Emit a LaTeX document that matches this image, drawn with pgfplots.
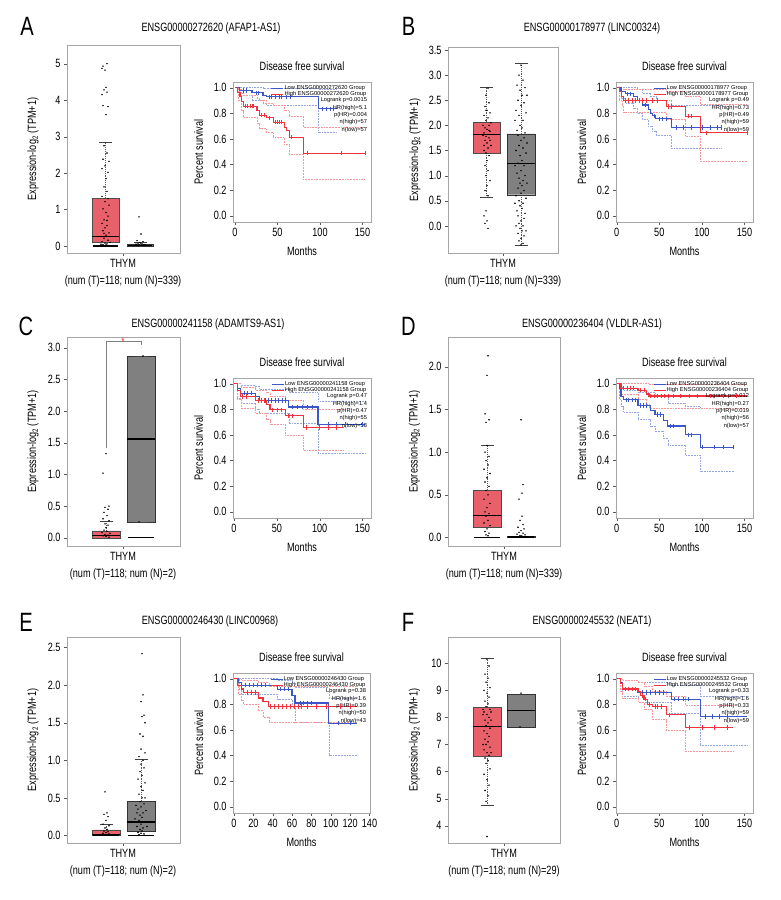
\documentclass[border=0pt]{standalone}
\usepackage{fontspec}
\setmainfont{Liberation Sans}[FakeStretch=0.76]
\newfontfamily\legfont{Liberation Sans}
\usepackage{pgfplots}
\pgfplotsset{compat=1.18}

\definecolor{boxred}{RGB}{232,97,106}
\definecolor{boxgrey}{RGB}{128,128,128}
\definecolor{kmblue}{RGB}{60,88,200}
\definecolor{kmred}{RGB}{240,50,60}
\definecolor{ciblue}{RGB}{150,165,228}
\definecolor{cired}{RGB}{248,150,155}

\tikzset{
  stats/.style={anchor=north east, align=right, inner sep=0pt, font=\legfont\fontsize{5.7}{7.4}\selectfont},
  panel/.style={anchor=base, font=\fontsize{26.5}{27}\selectfont},
  gtitle/.style={anchor=base, font=\fontsize{12}{12}\selectfont},
}

\pgfplotsset{
  every axis/.append style={
    scale only axis,
    /pgf/number format/assume math mode=true,
    tick label style={font=\fontsize{12}{12}\selectfont},
    label style={font=\fontsize{12}{14}\selectfont},
    axis line style={gray!70},
    tick align=outside, xtick pos=bottom, ytick pos=left,
    major tick length=3pt, tick style={gray!70!black},
  },
  boxax/.style={
    xmin=0, xtick={56},
    ylabel={Expression-log\textsubscript{2} (TPM+1)},
    ylabel style={at={(axis description cs:-0.30,0.5)}, rotate=0, anchor=center},
    xticklabel style={align=center, font=\fontsize{12}{17}\selectfont},
  },
  dec/.style={yticklabel style={/pgf/number format/.cd, fixed, fixed zerofill, precision=1}},
  bred/.style={fill=boxred, draw=gray!60!black, line width=0.4pt, forget plot},
  bgrey/.style={fill=boxgrey, draw=gray!40!black, line width=0.4pt, forget plot},
  med/.style={black, line width=1.1pt, forget plot},
  wh/.style={gray!70!black, dash pattern=on 1.2pt off 1pt, line width=0.5pt, forget plot},
  cap/.style={gray!50!black, line width=0.6pt, forget plot},
  pts/.style={only marks, mark=*, mark size=0.5pt, black, forget plot},
  zl/.style={black, line width=1.2pt, forget plot},
  kmax/.style={
    xmin=-1.5, xmax=160, ymin=-0.05, ymax=1.045,
    xtick={0,50,100,150}, ytick={0,0.2,0.4,0.6,0.8,1},
    dec,
    title={Disease free survival}, xlabel={Months}, ylabel={Percent survival},
    title style={at={(axis description cs:0.5,1.07)}, anchor=center, font=\fontsize{12}{12}\selectfont},
    ylabel style={at={(axis description cs:-0.25,0.5)}, anchor=center},
    xlabel style={at={(axis description cs:0.5,-0.21)}, anchor=center},
    legend style={at={(0.972,0.98)}, anchor=north east, draw=none, fill=none,
      font=\legfont\fontsize{5.7}{6}\selectfont, inner sep=0pt, row sep=-0.6pt,
      nodes={inner sep=0.6pt}},
    legend cell align=left,
    legend image code/.code={\draw[#1, line width=1pt] (0pt,0pt) -- (12pt,0pt);},
  },
  lowline/.style={const plot, line width=1.15pt, color=kmblue},
  highline/.style={const plot, line width=1.15pt, color=kmred},
  lowci/.style={const plot, densely dotted, line width=0.55pt, color=ciblue, forget plot},
  highci/.style={const plot, densely dotted, line width=0.55pt, color=cired, forget plot},
  lowcens/.style={only marks, mark=|, mark size=2.2pt, line width=0.6pt, color=kmblue, forget plot},
  highcens/.style={only marks, mark=|, mark size=2.2pt, line width=0.6pt, color=kmred, forget plot},
}

\begin{document}
\begin{tikzpicture}
\path[use as bounding box] (0pt,0pt) rectangle (780pt,-900pt);

% ---------------- A ----------------
\begin{axis}[boxax, at={(67pt,-253pt)}, anchor=south west, width=113pt, height=208pt,
  xmax=113, ymin=-0.19, ymax=5.51, ytick={0,1,2,3,4,5},
  xticklabels={{THYM\\(num (T)=118; num (N)=339)}}]
\addplot[wh] coordinates {(38.5,1.30)(38.5,2.85)};
\addplot[cap] coordinates {(32,2.85)(45,2.85)};
\addplot[bred] coordinates {(25,0.11)(52,0.11)(52,1.30)(25,1.30)(25,0.11)};
\addplot[med] coordinates {(25,0.25)(52,0.25)};
\addplot[bgrey] coordinates {(60,0)(86,0)(86,0.04)(60,0.04)(60,0)};
\addplot[wh] coordinates {(73,0.04)(73,0.09)};
\addplot[cap] coordinates {(66.5,0.09)(79.5,0.09)};
\addplot[zl] coordinates {(26,0) (51,0)};
\addplot[zl] coordinates {(61,0.01) (85,0.01)};
\addplot[pts] coordinates {(40,5.0)(36,4.93)(35,4.87)(38,4.82)(39,4.35)(37,4.28)(40,4.22)(35,4.15)
  (36,3.85)(41,3.82)(39,3.6)(37,2.75)(40,2.55)(36,2.38)(42,2.32)(38,2.2)(35,2.12)(41,2.02)
  (39,1.85)(37,1.62)(40,1.5)(35,1.36)(38,1.22)(42,1.12)(36,1.02)(39,0.92)(41,0.82)(37,0.72)
  (35,0.62)(40,0.56)(38,0.5)(36,0.42)(42,0.36)(39,0.3)(37,0.22)(41,0.16)(35,0.12)(38,0.08)
  (40,0.06)(36,0.04)(39,0.03)(34,0.05)(43,0.1)(37,0.35)(40,0.7)(41,1.3)};
\addplot[pts] coordinates {(72,0.8)(74,0.33)(70,0.15)(76,0.12)(73,0.1)(71,0.08)(75,0.06)
  (69,0.05)(77,0.04)(72,0.03)(74,0.02)(78,0.03)(68,0.02)};
\end{axis}

\begin{axis}[kmax, at={(233pt,-222pt)}, anchor=south west, width=138pt, height=140pt, xmin=-2.3]
\addplot[lowci] coordinates {(0,1)(5,1)(33,0.995)(98,0.99)(119.5,0.99)};
\addplot[lowci] coordinates {(0,1)(5,0.94)(20,0.9)(33,0.88)(37,0.86)(98,0.65)(119.5,0.65)};
\addplot[highci] coordinates {(0,1)(4,0.99)(8,0.96)(10,0.94)(26,0.92)(29,0.9)(37,0.88)
  (45,0.86)(58,0.82)(64,0.78)(80.5,0.69)(153,0.69)};
\addplot[highci] coordinates {(0,1)(4,0.9)(8,0.82)(10,0.77)(26,0.72)(29,0.68)(37,0.65)
  (45,0.61)(58,0.56)(64,0.48)(80.5,0.285)(153,0.285)};
\addplot[lowline] coordinates {(0,1)(5,0.98)(20,0.96)(33,0.94)(37,0.93)(98,0.835)(119.5,0.835)};
\addlegendentry{Low ENSG00000272620 Group}
\addplot[highline] coordinates {(0,1)(3,0.965)(6,0.93)(8,0.89)(10,0.855)(26,0.82)(29,0.785)
  (37,0.765)(45,0.73)(58,0.69)(61,0.666)(64,0.614)(80.5,0.488)(153,0.488)};
\addlegendentry{High ENSG00000272620 Group}
\addplot[lowcens] coordinates {(10,0.98)(13,0.98)(25,0.96)(28,0.96)(40,0.93)(43,0.93)(47,0.93)
  (52,0.93)(55,0.93)(60,0.93)(65,0.93)(103,0.835)(108,0.835)(112,0.835)(116,0.835)};
\addplot[highcens] coordinates {(12,0.855)(15,0.855)(18,0.855)(20,0.855)(22,0.855)(31,0.785)
  (34,0.785)(40,0.765)(47,0.73)(50,0.73)(52,0.73)(55,0.73)(66,0.614)(85,0.488)(125,0.488)(153,0.488)};
\node[stats] at (rel axis cs:0.972,0.89) {Logrank p=0.0015\\HR(high)=5.1\\p(HR)=0.004\\n(high)=57\\n(low)=57};
\end{axis}

% ---------------- B ----------------
\begin{axis}[boxax, dec, at={(448pt,-253pt)}, anchor=south west, width=110pt, height=206pt,
  xmax=110, xtick={55}, ymin=-0.54, ymax=3.56, ytick={0,0.5,1,1.5,2,2.5,3,3.5},
  xticklabels={{THYM\\(num (T)=118; num (N)=339)}}]
\addplot[wh] coordinates {(38.5,2.06)(38.5,2.76)};
\addplot[wh] coordinates {(38.5,1.45)(38.5,0.56)};
\addplot[cap] coordinates {(32,2.76)(45,2.76)};
\addplot[cap] coordinates {(32,0.56)(45,0.56)};
\addplot[bred] coordinates {(25,1.45)(52,1.45)(52,2.06)(25,2.06)(25,1.45)};
\addplot[med] coordinates {(25,1.81)(52,1.81)};
\addplot[wh] coordinates {(73,1.83)(73,3.24)};
\addplot[wh] coordinates {(73,0.62)(73,-0.39)};
\addplot[cap] coordinates {(66.5,3.24)(79.5,3.24)};
\addplot[cap] coordinates {(66.5,-0.39)(79.5,-0.39)};
\addplot[bgrey] coordinates {(59,0.62)(87,0.62)(87,1.83)(59,1.83)(59,0.62)};
\addplot[med] coordinates {(59,1.25)(87,1.25)};
\addplot[pts] coordinates {(40,2.74)(38,2.6)(41,2.45)(37,2.38)(39,2.3)(42,2.25)(36,2.2)(40,2.15)
  (38,2.1)(43,2.05)(41,2.0)(37,1.95)(39,1.92)(42,1.88)(36,1.85)(40,1.82)(38,1.78)(41,1.75)
  (37,1.7)(39,1.65)(43,1.6)(40,1.55)(36,1.5)(38,1.45)(41,1.4)(39,1.3)(37,1.2)(40,1.1)(38,1.0)
  (42,0.9)(39,0.8)(37,0.7)(40,0.6)(38,0.3)(36,0.2)(39,0.1)(37,0.05)(40,-0.05)
  (35,2.0)(42,1.7)(36,1.6)(41,1.9)(38,2.3)(35,1.8)};
\addplot[pts] coordinates {(73,3.2)(71,3.0)(75,2.9)(69,2.8)(77,2.75)(72,2.7)(74,2.6)(70,2.5)
  (76,2.45)(73,2.4)(68,2.3)(78,2.25)(71,2.2)(75,2.1)(72,2.0)(74,1.95)(69,1.9)(77,1.85)(70,1.8)
  (76,1.75)(73,1.7)(71,1.6)(75,1.55)(68,1.5)(78,1.45)(72,1.4)(74,1.3)(70,1.25)(76,1.2)(73,1.1)
  (69,1.05)(77,1.0)(71,0.95)(75,0.9)(72,0.85)(74,0.8)(70,0.75)(76,0.7)(73,0.65)(68,0.6)(78,0.55)
  (71,0.5)(75,0.45)(72,0.4)(74,0.35)(69,0.3)(77,0.25)(70,0.2)(76,0.15)(73,0.1)(71,0.05)(75,0.0)
  (72,-0.05)(74,-0.1)(70,-0.15)(76,-0.2)(73,-0.25)(71,-0.3)(75,-0.35)(73,-0.38)
  (67,2.1)(79,1.65)(67,1.2)(79,0.85)(67,0.45)(79,2.6)(68,0.0)(78,-0.1)};
\end{axis}

\begin{axis}[kmax, at={(616pt,-222pt)}, anchor=south west, width=137pt, height=140pt, xmin=-0.8]
\addplot[lowci] coordinates {(0,1)(10,1)(24,0.99)(30,0.96)(40,0.93)(46,0.9)(64,0.86)(123,0.86)};
\addplot[lowci] coordinates {(0,1)(5,0.92)(10,0.88)(20,0.84)(24,0.80)(30,0.75)(37,0.70)
  (42,0.66)(46,0.63)(64,0.527)(123,0.527)};
\addplot[highci] coordinates {(0,1)(8,0.99)(58,0.97)(81,0.93)(98,0.87)(153,0.87)};
\addplot[highci] coordinates {(0,1)(3,0.9)(6,0.86)(8,0.81)(58,0.75)(81,0.62)(98,0.426)(153,0.426)};
\addplot[lowline] coordinates {(0,1)(5,0.97)(10,0.953)(20,0.93)(24,0.90)(30,0.865)(37,0.83)
  (40,0.80)(42,0.78)(46,0.757)(64,0.689)(123,0.689)};
\addlegendentry{Low ENSG00000178977 Group}
\addplot[highline] coordinates {(0,1)(3,0.97)(6,0.93)(8,0.90)(58,0.854)(81,0.778)(98,0.647)(153,0.647)};
\addlegendentry{High ENSG00000178977 Group}
\addplot[lowcens] coordinates {(12,0.953)(16,0.953)(26,0.9)(33,0.865)(44,0.78)(50,0.757)(54,0.757)
  (58,0.757)(70,0.689)(78,0.689)(88,0.689)(100,0.689)(110,0.689)(118,0.689)(123,0.689)};
\addplot[highcens] coordinates {(10,0.9)(14,0.9)(18,0.9)(22,0.9)(27,0.9)(30,0.9)(35,0.9)(42,0.9)
  (48,0.9)(60,0.854)(64,0.854)(84,0.778)(88,0.778)(105,0.647)(153,0.647)};
\node[stats] at (rel axis cs:0.972,0.89) {Logrank p=0.49\\HR(high)=0.73\\p(HR)=0.49\\n(high)=59\\n(low)=59};
\end{axis}

% ---------------- C ----------------
\begin{axis}[boxax, dec, at={(67pt,-546pt)}, anchor=south west, width=113pt, height=209pt,
  xmax=113, ymin=-0.13, ymax=3.17, ytick={0,0.5,1,1.5,2,2.5,3},
  xticklabels={{THYM\\(num (T)=118; num (N)=2)}}]
\addplot[wh] coordinates {(39,0.11)(39,0.26)};
\addplot[cap] coordinates {(32.5,0.26)(45.5,0.26)};
\addplot[bred] coordinates {(25,0)(53,0)(53,0.11)(25,0.11)(25,0)};
\addplot[med] coordinates {(25,0.04)(53,0.04)};
\addplot[bgrey] coordinates {(60,0.25)(88,0.25)(88,2.87)(60,2.87)(60,0.25)};
\addplot[med] coordinates {(60,1.56)(88,1.56)};
\addplot[cap] coordinates {(67.5,2.87)(80.5,2.87)};
\addplot[cap] coordinates {(67.5,0.25)(80.5,0.25)};
\addplot[zl] coordinates {(61,0) (87,0)};
\addplot[gray, line width=0.6pt, forget plot] coordinates {(39,1.41)(39,3.11)(74,3.11)(74,3.05)};
\node[kmred, font=\fontsize{11}{11}\selectfont, inner sep=0pt] at (axis cs:56,3.09) {*};
\addplot[pts] coordinates {(39,1.33)(36,1.02)(42,0.5)(38,0.48)(41,0.45)(37,0.4)(40,0.35)(36,0.3)
  (42,0.27)(38,0.22)(41,0.2)(39,0.16)(37,0.12)(40,0.1)(35,0.08)(43,0.07)(38,0.05)(41,0.04)
  (36,0.03)(39,0.02)(42,0.01)};
\addplot[pts] coordinates {(76,2.87)(72,0.25)};
\end{axis}

\begin{axis}[kmax, at={(233pt,-518pt)}, anchor=south west, width=138pt, height=140pt, xmin=-1.2]
\addplot[lowci] coordinates {(0,1)(8,0.99)(25,0.98)(30,0.96)(64,0.93)(98,0.86)(153,0.86)};
\addplot[lowci] coordinates {(0,1)(4,0.89)(8,0.85)(25,0.80)(30,0.77)(64,0.69)(98,0.46)(153,0.46)};
\addplot[highci] coordinates {(0,1)(4,1)(8,0.97)(25,0.95)(38,0.93)(42,0.9)(60,0.87)(81,0.8)(128,0.8)};
\addplot[highci] coordinates {(0,1)(4,0.88)(8,0.81)(25,0.77)(38,0.72)(42,0.68)(60,0.6)(81,0.48)(128,0.48)};
\addplot[lowline] coordinates {(0,1)(4,0.96)(8,0.927)(25,0.90)(30,0.87)(64,0.818)(98,0.68)(153,0.68)};
\addlegendentry{Low ENSG00000241158 Group}
\addplot[highline] coordinates {(0,1)(4,0.95)(8,0.90)(25,0.87)(38,0.84)(42,0.797)(60,0.75)(81,0.657)(128,0.657)};
\addlegendentry{High ENSG00000241158 Group}
\addplot[lowcens] coordinates {(12,0.927)(16,0.927)(20,0.927)(32,0.87)(36,0.87)(40,0.87)(44,0.87)
  (48,0.87)(52,0.87)(56,0.87)(60,0.87)(68,0.818)(74,0.818)(80,0.818)(86,0.818)(92,0.818)(110,0.68)
  (120,0.68)(130,0.68)(150,0.68)};
\addplot[highcens] coordinates {(10,0.90)(14,0.90)(28,0.87)(32,0.87)(35,0.87)(45,0.797)(50,0.797)
  (55,0.797)(63,0.75)(68,0.75)(85,0.657)(100,0.657)(110,0.657)(120,0.657)};
\node[stats] at (rel axis cs:0.972,0.89) {Logrank p=0.47\\HR(high)=1.4\\p(HR)=0.47\\n(high)=55\\n(low)=58};
\end{axis}

% ---------------- D ----------------
\begin{axis}[boxax, dec, at={(448pt,-546pt)}, anchor=south west, width=112pt, height=209pt,
  xmax=112, ymin=-0.10, ymax=2.35, ytick={0,0.5,1,1.5,2},
  xticklabels={{THYM\\(num (T)=118; num (N)=339)}}]
\addplot[wh] coordinates {(39,0.55)(39,1.08)};
\addplot[cap] coordinates {(32.5,1.08)(45.5,1.08)};
\addplot[bred] coordinates {(25,0.12)(53,0.12)(53,0.55)(25,0.55)(25,0.12)};
\addplot[med] coordinates {(25,0.26)(53,0.26)};
\addplot[bgrey] coordinates {(59,0)(87,0)(87,0.01)(59,0.01)(59,0)};
\addplot[wh] coordinates {(73,0.01)(73,0.03)};
\addplot[zl] coordinates {(26,0) (52,0)};
\addplot[zl] coordinates {(60,0.005) (86,0.005)};
\addplot[pts] coordinates {(40,2.13)(39,1.9)(37,1.45)(41,1.38)(38,1.35)(39,1.08)(37,1.0)(41,0.95)
  (38,0.9)(40,0.85)(36,0.8)(42,0.75)(39,0.7)(37,0.65)(41,0.6)(38,0.55)(40,0.5)(36,0.45)(42,0.4)
  (39,0.35)(37,0.3)(41,0.28)(38,0.25)(40,0.2)(36,0.17)(42,0.14)(39,0.1)(37,0.07)(41,0.05)
  (38,0.03)(40,0.02)};
\addplot[pts] coordinates {(73,1.38)(75,0.62)(74,0.52)(71,0.45)(74,0.25)(72,0.2)(75,0.15)(70,0.12)
  (76,0.1)(73,0.08)(71,0.06)(75,0.05)(69,0.04)(77,0.03)(72,0.02)(74,0.015)};
\end{axis}

\begin{axis}[kmax, at={(616pt,-518pt)}, anchor=south west, width=137pt, height=140pt, xmin=-0.8]
\addplot[lowci] coordinates {(0,1)(5,0.97)(8,0.95)(25,0.93)(45,0.9)(60,0.85)(81,0.82)(98,0.81)(137,0.81)};
\addplot[lowci] coordinates {(0,1)(3,0.88)(5,0.82)(8,0.78)(25,0.72)(40,0.67)(45,0.63)(55,0.57)
  (60,0.52)(81,0.44)(98,0.312)(137,0.312)};
\addplot[highci] coordinates {(0,1)(25,1)(38,0.995)(153,0.995)};
\addplot[highci] coordinates {(0,1)(5,0.92)(25,0.88)(35,0.84)(38,0.81)(153,0.81)};
\addplot[lowline] coordinates {(0,1)(3,0.96)(5,0.90)(8,0.875)(25,0.83)(40,0.79)(45,0.76)(55,0.714)
  (60,0.67)(81,0.60)(98,0.504)(137,0.504)};
\addlegendentry{Low ENSG00000236404 Group}
\addplot[highline] coordinates {(0,1)(5,0.966)(25,0.95)(35,0.92)(38,0.904)(153,0.904)};
\addlegendentry{High ENSG00000236404 Group}
\addplot[lowcens] coordinates {(11,0.875)(14,0.875)(18,0.875)(22,0.875)(28,0.83)(31,0.83)(35,0.83)
  (48,0.76)(51,0.76)(63,0.67)(67,0.67)(84,0.60)(88,0.60)(100,0.504)(115,0.504)(125,0.504)(137,0.504)};
\addplot[highcens] coordinates {(8,0.966)(12,0.966)(16,0.966)(20,0.966)(28,0.95)(32,0.95)(40,0.904)
  (44,0.904)(48,0.904)(52,0.904)(56,0.904)(60,0.904)(66,0.904)(75,0.904)(85,0.904)(95,0.904)
  (110,0.904)(125,0.904)(140,0.904)};
\node[stats] at (rel axis cs:0.972,0.89) {Logrank p=0.012\\HR(high)=0.27\\p(HR)=0.019\\n(high)=56\\n(low)=57};
\end{axis}

% ---------------- E ----------------
\begin{axis}[boxax, dec, at={(67pt,-843pt)}, anchor=south west, width=113pt, height=206pt,
  xmax=113, ymin=-0.10, ymax=2.64, ytick={0,0.5,1,1.5,2,2.5},
  xticklabels={{THYM\\(num (T)=118; num (N)=2)}}]
\addplot[wh] coordinates {(39,0.076)(39,0.15)};
\addplot[cap] coordinates {(32.5,0.15)(45.5,0.15)};
\addplot[bred] coordinates {(25,0)(53,0)(53,0.076)(25,0.076)(25,0)};
\addplot[med] coordinates {(25,0.016)(53,0.016)};
\addplot[wh] coordinates {(74,0.45)(74,1.02)};
\addplot[cap] coordinates {(67.5,1.02)(80.5,1.02)};
\addplot[bgrey] coordinates {(60,0.06)(88,0.06)(88,0.45)(60,0.45)(60,0.06)};
\addplot[med] coordinates {(60,0.18)(88,0.18)};
\addplot[zl] coordinates {(26,0) (52,0)};
\addplot[zl] coordinates {(61,0) (87,0)};
\addplot[pts] coordinates {(38,0.58)(40,0.3)(37,0.28)(41,0.25)(39,0.2)(36,0.15)(42,0.13)(38,0.1)
  (40,0.08)(37,0.06)(41,0.05)(39,0.04)(36,0.03)(42,0.02)(38,0.01)};
\addplot[pts] coordinates {(75,2.42)(76,1.87)(74,1.78)(77,1.6)(75,1.58)(78,1.5)(73,1.35)(76,1.32)
  (74,1.15)(78,1.1)(72,1.05)(76,1.0)(74,0.95)(77,0.9)(73,0.85)(75,0.8)(71,0.75)(78,0.7)(74,0.65)
  (76,0.6)(72,0.55)(75,0.5)(73,0.45)(77,0.42)(74,0.38)(71,0.35)(76,0.3)(73,0.27)(75,0.24)(72,0.2)
  (77,0.18)(74,0.15)(70,0.12)(76,0.1)(73,0.08)(75,0.06)(71,0.04)(74,0.03)(77,0.02)(72,0.01)
  (69,0.4)(79,0.33)(68,0.22)(80,0.12)(70,0.3)(78,0.5)};
\end{axis}

\begin{axis}[kmax, at={(233pt,-813pt)}, anchor=south west, width=137pt, height=140pt,
  xmin=-1, xmax=140.5, xtick={0,20,40,60,80,100,120,140}]
\addplot[lowci] coordinates {(0,1)(8,1)(45,0.99)(60,0.97)(63,0.93)(98,0.85)(127,0.85)};
\addplot[lowci] coordinates {(0,1)(5,0.92)(8,0.88)(45,0.84)(60,0.78)(63,0.66)(98,0.405)(127,0.405)};
\addplot[highci] coordinates {(0,1)(8,0.99)(25,0.97)(36,0.94)(127,0.92)};
\addplot[highci] coordinates {(0,1)(4,0.88)(8,0.83)(10,0.8)(25,0.75)(30,0.7)(36,0.658)(127,0.658)};
\addplot[lowline] coordinates {(0,1)(5,0.97)(8,0.95)(45,0.919)(60,0.87)(63,0.81)(98,0.653)(127,0.653)};
\addlegendentry{Low ENSG00000246430 Group}
\addplot[highline] coordinates {(0,1)(4,0.95)(8,0.92)(10,0.893)(25,0.85)(30,0.82)(36,0.783)(127,0.783)};
\addlegendentry{High ENSG00000246430 Group}
\addplot[lowcens] coordinates {(12,0.95)(16,0.95)(20,0.95)(24,0.95)(28,0.95)(32,0.95)(48,0.919)
  (52,0.919)(56,0.919)(68,0.81)(72,0.81)(76,0.81)(80,0.81)(108,0.653)(120,0.653)};
\addplot[highcens] coordinates {(14,0.893)(18,0.893)(22,0.893)(38,0.783)(42,0.783)(46,0.783)(50,0.783)
  (54,0.783)(58,0.783)(62,0.783)(66,0.783)(70,0.783)(76,0.783)(85,0.783)(95,0.783)(110,0.783)(120,0.783)};
\node[stats] at (rel axis cs:0.972,0.89) {Logrank p=0.38\\HR(high)=1.6\\p(HR)=0.39\\n(high)=50\\n(low)=43};
\end{axis}

% ---------------- F ----------------
\begin{axis}[boxax, at={(448pt,-843pt)}, anchor=south west, width=112pt, height=206pt,
  xmax=112, ymin=3.36, ymax=10.97, ytick={4,5,6,7,8,9,10},
  xticklabels={{THYM\\(num (T)=118; num (N)=29)}}]
\addplot[wh] coordinates {(39,8.36)(39,10.19)};
\addplot[wh] coordinates {(39,6.57)(39,4.74)};
\addplot[cap] coordinates {(32.5,10.19)(45.5,10.19)};
\addplot[cap] coordinates {(32.5,4.74)(45.5,4.74)};
\addplot[bred] coordinates {(25,6.57)(53,6.57)(53,8.36)(25,8.36)(25,6.57)};
\addplot[med] coordinates {(25,7.65)(53,7.65)};
\addplot[bgrey] coordinates {(59,7.65)(87,7.65)(87,8.86)(59,8.86)(59,7.65)};
\addplot[med] coordinates {(59,8.27)(87,8.27)};
\addplot[pts] coordinates {(39,10.15)(41,9.9)(37,9.6)(40,9.45)(38,9.3)(42,9.1)(36,9.0)(39,8.9)
  (41,8.75)(37,8.6)(40,8.5)(38,8.4)(42,8.3)(36,8.2)(39,8.1)(41,8.0)(37,7.9)(40,7.8)(38,7.7)
  (42,7.6)(36,7.5)(39,7.4)(41,7.3)(37,7.2)(40,7.1)(38,7.0)(42,6.9)(36,6.8)(39,6.7)(41,6.6)
  (37,6.5)(40,6.4)(38,6.3)(42,6.1)(36,5.9)(39,5.7)(41,5.5)(37,5.3)(40,5.1)(38,4.9)(39,3.6)
  (35,8.1)(43,7.9)(35,7.0)(43,6.7)(35,8.3)(43,8.2)};
\addplot[pts] coordinates {(73,8.9)(72,7.65)};
\end{axis}

\begin{axis}[kmax, at={(616pt,-813pt)}, anchor=south west, width=137pt, height=140pt, xmin=-0.8]
\addplot[lowci] coordinates {(0,1)(7,0.99)(25,0.97)(64,0.95)(98,0.86)(153,0.86)};
\addplot[lowci] coordinates {(0,1)(4,0.92)(7,0.86)(25,0.82)(64,0.73)(98,0.478)(153,0.478)};
\addplot[highci] coordinates {(0,1)(7,0.99)(25,0.97)(32,0.94)(42,0.9)(58,0.86)(81,0.79)(137,0.79)};
\addplot[highci] coordinates {(0,1)(4,0.9)(7,0.85)(25,0.82)(32,0.76)(42,0.68)(58,0.6)(81,0.43)(137,0.43)};
\addplot[lowline] coordinates {(0,1)(4,0.97)(7,0.92)(25,0.893)(64,0.84)(98,0.705)(153,0.705)};
\addlegendentry{Low ENSG00000245532 Group}
\addplot[highline] coordinates {(0,1)(4,0.96)(7,0.92)(25,0.90)(28,0.87)(32,0.84)(36,0.80)(42,0.783)
  (58,0.718)(81,0.62)(137,0.62)};
\addlegendentry{High ENSG00000245532 Group}
\addplot[lowcens] coordinates {(10,0.92)(14,0.92)(18,0.92)(22,0.92)(30,0.893)(35,0.893)(40,0.893)
  (45,0.893)(50,0.893)(55,0.893)(68,0.84)(72,0.84)(78,0.84)(84,0.84)(104,0.705)(112,0.705)
  (120,0.705)(130,0.705)};
\addplot[highcens] coordinates {(10,0.92)(14,0.92)(18,0.92)(22,0.92)(30,0.87)(34,0.84)(38,0.80)
  (45,0.783)(48,0.783)(52,0.783)(62,0.718)(85,0.62)(100,0.62)(115,0.62)(130,0.62)};
\node[stats] at (rel axis cs:0.972,0.89) {Logrank p=0.33\\HR(high)=1.6\\p(HR)=0.33\\n(high)=59\\n(low)=59};
\end{axis}

% ---------------- titles and panel letters ----------------
\node[gtitle] at (211pt,-31pt) {ENSG00000272620 (AFAP1-AS1)};
\node[gtitle] at (592pt,-31pt) {ENSG00000178977 (LINC00324)};
\node[gtitle] at (208pt,-327pt) {ENSG00000241158 (ADAMTS9-AS1)};
\node[gtitle] at (592pt,-327pt) {ENSG00000236404 (VLDLR-AS1)};
\node[gtitle] at (210pt,-624pt) {ENSG00000246430 (LINC00968)};
\node[gtitle] at (592pt,-624pt) {ENSG00000245532 (NEAT1)};
\node[panel] at (27pt,-35pt) {A};
\node[panel] at (408.5pt,-35pt) {B};
\node[panel] at (26pt,-335pt) {C};
\node[panel] at (408.5pt,-335pt) {D};
\node[panel] at (26pt,-631.5pt) {E};
\node[panel] at (408pt,-631.5pt) {F};
\end{tikzpicture}
\end{document}
